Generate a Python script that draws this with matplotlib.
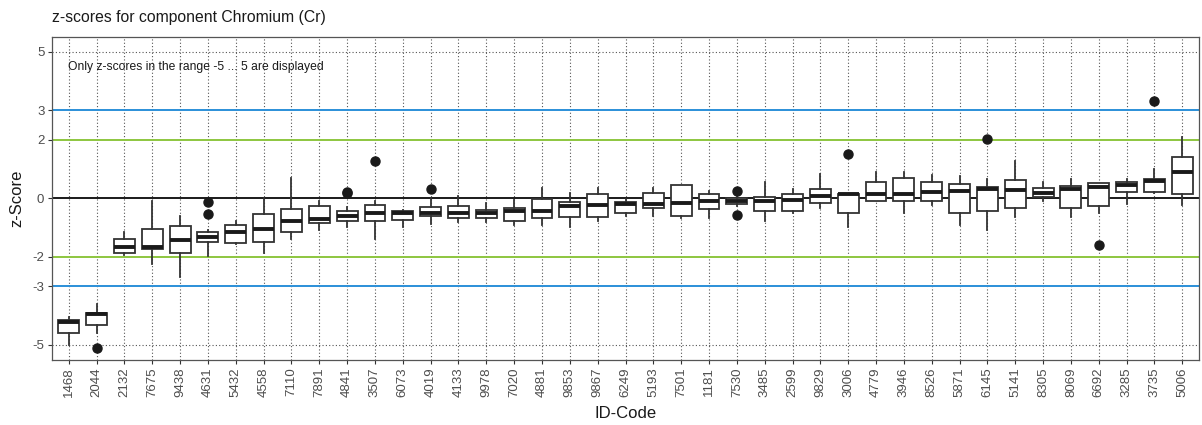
import matplotlib
matplotlib.use("Agg")
import matplotlib.pyplot as plt

plt.rcParams['font.family'] = ['Liberation Sans', 'DejaVu Sans']

ids = ["1468", "2044", "2132", "7675", "9438", "4631", "5432", "4558", "7110", "7891",
       "4841", "3507", "6073", "4019", "4133", "9978", "7020", "4881", "9853", "9867",
       "6249", "5193", "7501", "1181", "7530", "3485", "2599", "9829", "3006", "4779",
       "3946", "8526", "5871", "6145", "5141", "8305", "8069", "6692", "3285", "3735", "5006"]

whisker_low = [-5.00, -4.60, -1.95, -2.25, -2.67, -1.97, -1.55, -1.88, -1.39, -1.08,
               -0.97, -1.39, -0.97, -0.88, -0.82, -0.80, -0.91, -0.91, -0.97, -0.77,
               -0.60, -0.60, -0.68, -0.66, -0.25, -0.77, -0.51, -0.34, -0.97, -0.11,
               -0.49, -0.23, -0.91, -1.08, -0.63, -0.11, -0.63, -0.49, -0.19, 0.17, -0.23]
q1 = [-4.58, -4.34, -1.88, -1.73, -1.88, -1.50, -1.53, -1.48, -1.16, -0.85,
      -0.76, -0.77, -0.74, -0.59, -0.66, -0.68, -0.77, -0.68, -0.63, -0.65,
      -0.51, -0.32, -0.59, -0.38, -0.19, -0.42, -0.43, -0.17, -0.51, -0.08,
      -0.08, -0.08, -0.51, -0.42, -0.34, 0.03, -0.34, -0.28, 0.23, 0.23, 0.14]
median = [-4.22, -3.95, -1.65, -1.65, -1.42, -1.33, -1.14, -1.06, -0.77, -0.72,
          -0.59, -0.51, -0.51, -0.49, -0.49, -0.51, -0.45, -0.43, -0.26, -0.23,
          -0.19, -0.19, -0.17, -0.11, -0.08, -0.09, -0.06, 0.09, 0.14, 0.14,
          0.14, 0.20, 0.25, 0.30, 0.28, 0.17, 0.32, 0.38, 0.45, 0.59, 0.91]
q3 = [-4.15, -3.90, -1.40, -1.05, -0.94, -1.16, -0.91, -0.55, -0.36, -0.25,
      -0.43, -0.23, -0.43, -0.31, -0.26, -0.40, -0.34, -0.02, -0.14, 0.14,
      -0.14, 0.19, 0.44, 0.14, 0.00, 0.03, 0.14, 0.32, 0.15, 0.55,
      0.68, 0.57, 0.49, 0.40, 0.63, 0.34, 0.43, 0.53, 0.57, 0.65, 1.39]
whisker_high = [-4.06, -3.60, -1.16, -0.11, -0.60, -1.10, -0.77, 0.00, 0.70, -0.11,
                -0.30, -0.11, -0.40, 0.00, 0.09, -0.15, -0.06, 0.36, 0.17, 0.34,
                -0.02, 0.36, 0.44, 0.26, 0.05, 0.57, 0.31, 0.82, 0.15, 0.88,
                0.88, 0.80, 0.76, 0.66, 1.28, 0.57, 0.66, 0.53, 0.65, 1.00, 2.08]
outliers = [[], [-5.11], [], [], [], [-0.14, -0.55], [], [], [], [],
            [0.23, 0.17], [1.28], [], [0.31], [], [], [], [], [], [],
            [], [], [], [], [0.24, -0.57], [], [], [], [1.50], [],
            [], [], [], [2.01], [], [], [], [-1.61], [], [3.30], []]

y_ticks = [5, 3, 2, 0, -2, -3, -5]
limit_lines = [(3, '#2b8fd8'), (2, '#8dc63f'), (0, '#1a1a1a'), (-2, '#8dc63f'), (-3, '#2b8fd8')]

fig = plt.figure(figsize=(12.02, 4.25), dpi=100)
ax = fig.add_axes([52 / 1202, 1 - 359.5 / 425, (1199 - 52) / 1202, (359.5 - 37) / 425])

positions = list(range(1, len(ids) + 1))
stats = []
for i, name in enumerate(ids):
    stats.append(dict(label=name, whislo=whisker_low[i], q1=q1[i], med=median[i],
                      q3=q3[i], whishi=whisker_high[i], fliers=outliers[i]))

# grid
for p in positions:
    ax.axvline(p, color='#555555', lw=0.8, ls=(0, (1, 2)), zorder=0)
for yv in [5, -5]:
    ax.axhline(yv, color='#555555', lw=0.8, ls=(0, (1, 2)), zorder=0)

for yv, c in limit_lines:
    ax.axhline(yv, color=c, lw=1.4, zorder=1)

ax.bxp(stats, positions=positions, widths=0.75, showcaps=False, patch_artist=True,
       boxprops=dict(facecolor='white', edgecolor='#333333', linewidth=1.3),
       whiskerprops=dict(color='#333333', linewidth=1.3),
       medianprops=dict(color='#1a1a1a', linewidth=2.8, solid_capstyle='butt'),
       flierprops=dict(marker='o', markerfacecolor='#1a1a1a', markeredgecolor='#1a1a1a',
                       markersize=6.5),
       zorder=3)

ax.set_xlim(0.4, len(ids) + 0.6)
ax.set_ylim(-5.5, 5.5)
ax.set_yticks(y_ticks)
ax.set_yticklabels([str(v) for v in y_ticks])
ax.set_xticks(positions)
ax.set_xticklabels(ids, rotation=90)
ax.tick_params(axis='both', colors='#333333', labelcolor='#4d4d4d', labelsize=9.5,
               length=3, width=0.8, pad=2.5)
for s in ax.spines.values():
    s.set_color('#555555')
    s.set_linewidth(0.9)

ax.text(0.98, 4.49, "Only z-scores in the range -5 ... 5 are displayed", fontsize=8.7,
        color='#1a1a1a', ha='left', va='center', zorder=4)

ax.set_xlabel("ID-Code", fontsize=12, color='#1a1a1a', va='center')
ax.xaxis.set_label_coords(0.5, -(414 - 359.5) / 322.5)
ax.set_ylabel("z-Score", fontsize=12, color='#1a1a1a', va='center')
ax.yaxis.set_label_coords(-(52 - 17) / 1147, 0.5 + (198.5 - 199) / 322.5)
fig.text(52 / 1202, 1 - 22 / 425, "z-scores for component Chromium (Cr)", fontsize=11.3,
         color='#1a1a1a', ha='left', va='baseline')

fig.savefig("out.png", dpi=100)
